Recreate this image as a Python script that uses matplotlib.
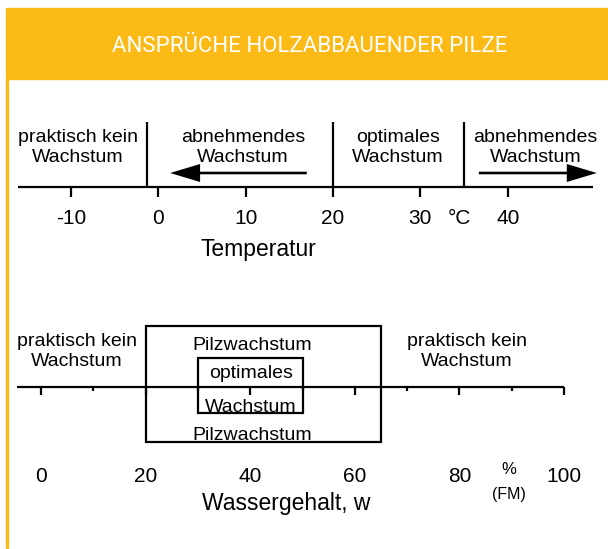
import matplotlib
matplotlib.use('Agg')
import matplotlib.pyplot as plt
from matplotlib.patches import Rectangle

plt.rcParams['font.family'] = ['Liberation Sans', 'DejaVu Sans']

YELLOW = '#FBBA16'

# Temperature scale (deg C)
temp_ticks = [-10, 0, 10, 20, 30, 40]
temp_bounds = [-1.3, 20, 35]          # vertical dividers
temp_axis = [-16.1, 49.8]
temp_zones = [(-9.2, 'praktisch kein', 'Wachstum'),
              (9.7, 'abnehmendes', 'Wachstum'),
              (27.4, 'optimales', 'Wachstum'),
              (43.2, 'abnehmendes', 'Wachstum')]
arrow_left = (17.0, 1.35)
arrow_right = (36.7, 50.2)

# Water content scale (% FM)
water_ticks = [0, 20, 40, 60, 80, 100]
water_minor = [10, 30, 50, 70, 90]
water_axis = [-4.6, 100]
growth_range = (20, 65)
optimum_range = (30, 50)

fig = plt.figure(figsize=(6.08, 5.49), dpi=100)

# header band and left stripe (figure fraction)
fig.patches.append(Rectangle((6 / 608, 1 - 79 / 549), 1, 70.5 / 549,
                             transform=fig.transFigure, color=YELLOW, zorder=0))
fig.patches.append(Rectangle((6 / 608, 1 / 549), 2 / 608, 1 - 80 / 549,
                             transform=fig.transFigure, color=YELLOW, zorder=0))
fig.text(310 / 608, 1 - 46 / 549, 'ANSPRÜCHE HOLZABBAUENDER PILZE', color='white',
         fontsize=16, family='Roboto', ha='center', va='center')

lw = 1.6
fs = 14

# ---- temperature chart ----
ax1 = fig.add_axes([0, 0, 1, 1])
ax1.set_xlim(-158.3 / 8.735, (608 - 158.3) / 8.735)
ax1.set_ylim(549, 0)
ax1.axis('off')
ax1.patch.set_alpha(0)

ax1.hlines(187, temp_axis[0], temp_axis[1], color='black', lw=lw)
ax1.vlines(temp_ticks, 187, 197, color='black', lw=lw)
ax1.vlines(temp_bounds, 122, 187, color='black', lw=lw)
for t in temp_ticks:
    ax1.text(t, 224, str(t), fontsize=15, ha='center', va='baseline')
ax1.text(34.5, 224, '°C', fontsize=15, ha='center', va='baseline')
ax1.text(11.45, 256, 'Temperatur', fontsize=16.5, ha='center', va='baseline')
for x, l1, l2 in temp_zones:
    ax1.text(x, 142, l1, fontsize=fs, ha='center', va='baseline')
    ax1.text(x, 162, l2, fontsize=fs, ha='center', va='baseline')

for tail, tip in [arrow_left, arrow_right]:
    ax1.arrow(tail, 173, tip - tail, 0, width=2.6, head_width=18,
              head_length=30 / 8.735, length_includes_head=True,
              color='black', lw=0)

# ---- water content chart ----
ax2 = fig.add_axes([0, 0, 1, 1])
ax2.set_xlim(-41 / 5.23, (608 - 41) / 5.23)
ax2.set_ylim(549, 0)
ax2.axis('off')
ax2.patch.set_alpha(0)

ax2.hlines(386.5, water_axis[0], water_axis[1], color='black', lw=lw)
ax2.vlines(water_ticks, 386.5, 395, color='black', lw=lw)
ax2.vlines(water_minor, 386.5, 391, color='black', lw=lw)
for t in water_ticks:
    ax2.text(t, 482.5, str(t), fontsize=15, ha='center', va='baseline')
ax2.text(89.5, 470, '%', fontsize=12, ha='center', va='center')
ax2.text(89.5, 494, '(FM)', fontsize=11.5, ha='center', va='center')
ax2.text(46.9, 510, 'Wassergehalt, w', fontsize=16.5, ha='center', va='baseline')

g0, g1 = growth_range
ax2.add_patch(Rectangle((g0, 326), g1 - g0, 116, fill=False, ec='black', lw=lw))
o0, o1 = optimum_range
ax2.add_patch(Rectangle((o0, 358), o1 - o0, 55, fill=False, ec='black', lw=lw))

ax2.text(40.3, 350.5, 'Pilzwachstum', fontsize=fs, ha='center', va='baseline')
ax2.text(40.1, 378.5, 'optimales', fontsize=fs, ha='center', va='baseline')
ax2.text(40.1, 412.5, 'Wachstum', fontsize=fs, ha='center', va='baseline')
ax2.text(40.3, 440, 'Pilzwachstum', fontsize=fs, ha='center', va='baseline')

for x in [6.9, 81.4]:
    ax2.text(x, 346, 'praktisch kein', fontsize=fs, ha='center', va='baseline')
    ax2.text(x, 366, 'Wachstum', fontsize=fs, ha='center', va='baseline')

fig.savefig('out.png', dpi=100)
